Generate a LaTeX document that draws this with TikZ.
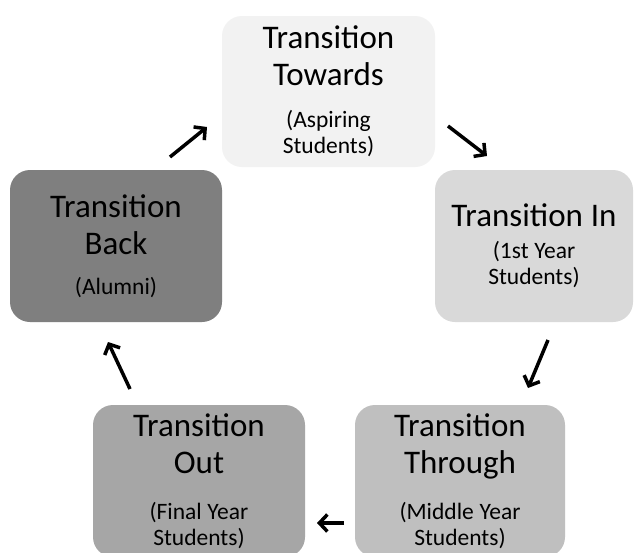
\documentclass[tikz,border=0pt]{standalone}
\usepackage{fontspec}
\setmainfont{Carlito}
\usetikzlibrary{arrows.meta}
\definecolor{cTow}{HTML}{F2F2F2}
\definecolor{cIn}{HTML}{D9D9D9}
\definecolor{cThr}{HTML}{BFBFBF}
\definecolor{cOut}{HTML}{A6A6A6}
\definecolor{cBack}{HTML}{7F7F7F}
\newcommand\bxtext[3]{{\fontsize{33}{37}\selectfont\spaceskip=0.24em\relax #1\par}\vspace{#2}{\fontsize{23.5}{26}\selectfont\spaceskip=0.24em\relax #3\par}}
\tikzset{
  stagebox/.style={rounded corners=20pt, minimum height=152pt, inner sep=0pt,
    align=center, text=black},
  cyclearrow/.style={line width=3.5pt, -{Straight Barb[length=8pt,width=17pt,line width=3.5pt]}, black}
}
\begin{document}
\begin{tikzpicture}[x=1pt,y=-1pt]
\useasboundingbox (0,0) rectangle (635,552);
\clip (0,0) rectangle (635,552);
\fill[white] (0,0) rectangle (635,552);
\node[stagebox, fill=cTow, minimum width=213pt, minimum height=151pt, text width=203pt] (tow) at (328.5,91.5)
  {\bxtext{Transition\\Towards}{16pt}{(Aspiring\\Students)}};
\node[stagebox, fill=cIn, minimum width=198pt, text width=194pt] (in) at (534,246)
  {\bxtext{Transition In}{6pt}{(1st Year\\Students)}};
\node[stagebox, fill=cThr, minimum width=210pt, text width=200pt] (thr) at (460,481)
  {\bxtext{Transition\\Through}{20pt}{(Middle Year\\Students)}};
\node[stagebox, fill=cOut, minimum width=212pt, text width=202pt] (out) at (199,481)
  {\bxtext{Transition\\Out}{20pt}{(Final Year\\Students)}};
\node[stagebox, fill=cBack, minimum width=212pt, text width=202pt] (back) at (116,246)
  {\bxtext{Transition\\Back}{14pt}{(Alumni)}};
\coordinate (a1s) at (170,157); \coordinate (a1e) at (207,127);
\coordinate (a2s) at (448,126); \coordinate (a2e) at (487,156);
\coordinate (a3s) at (548,340); \coordinate (a3e) at (528,388);
\coordinate (a4s) at (344,523); \coordinate (a4e) at (317,523);
\coordinate (a5s) at (130,389); \coordinate (a5e) at (108,342);
\draw[cyclearrow] (a1s) -- (a1e);
\draw[cyclearrow] (a2s) -- (a2e);
\draw[cyclearrow] (a3s) -- (a3e);
\draw[cyclearrow] (a4s) -- (a4e);
\draw[cyclearrow] (a5s) -- (a5e);
\end{tikzpicture}
\end{document}
